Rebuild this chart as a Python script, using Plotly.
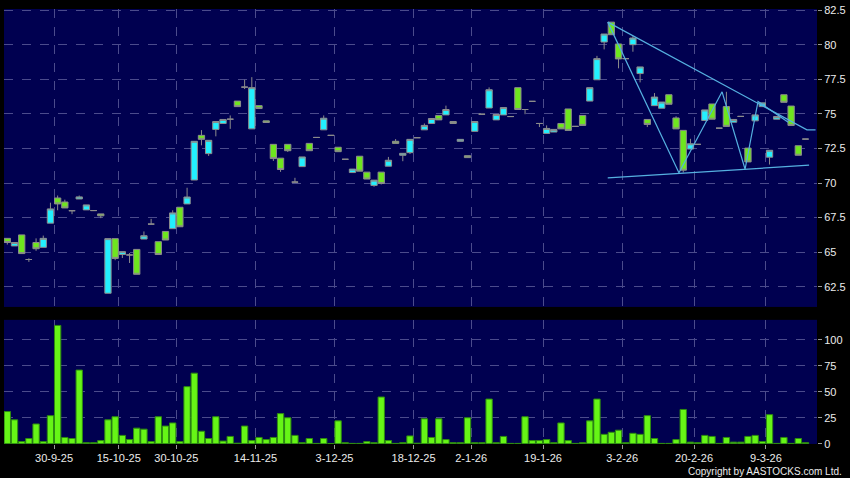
import plotly.graph_objects as go

# daily bars, index 0..111 (trading-day positions)
opens = [66.0, 65.45, 66.25, 64.47, 65.7, 65.35, 67.1, 68.92, 68.63, 68.0,
         68.85, 68.06, 68.01, 67.77, 62.03, 65.98, 64.83, 64.8, 65.2, 65.95,
         67.03, 65.76, 66.5, 66.7, 68.25, 68.49, 70.22, 73.45, 72.13, 73.88,
         74.31, 74.62, 75.93, 76.94, 73.92, 75.6, 74.5, 72.8, 71.8, 72.8,
         70.07, 71.19, 72.87, 73.3, 73.85, 73.45, 72.59, 71.72, 70.76, 71.94,
         70.79, 69.83, 70.79, 71.22, 73.02, 72.01, 72.2, 73.28, 73.85, 74.31,
         74.89, 74.93, 74.45, 73.02, 71.98, 73.74, 74.98, 75.43, 74.57, 74.93,
         74.81, 76.9, 75.32, 75.91, 74.31, 73.59, 73.69, 74.31, 75.36, 74.1,
         74.89, 75.93, 77.47, 80.2, 81.64, 80.06, 79.0, 80.01, 77.92, 74.6,
         75.6, 75.41, 76.39, 74.71, 73.81, 72.46, 72.8, 74.53, 75.72, 73.97,
         75.53, 74.4, 74.82, 72.53, 74.5, 75.53, 71.87, 74.62, 76.39, 75.57,
         72.7, 73.18]
highs = [66.0, 65.7, 66.25, 64.56, 66.0, 66.2, 68.58, 69.1, 68.8, 68.0,
         69.1, 68.42, 68.01, 67.77, 65.98, 65.98, 65.04, 64.94, 65.2, 66.5,
         67.41, 65.76, 66.5, 68.03, 68.25, 69.66, 73.02, 73.83, 73.09, 74.45,
         74.6, 74.89, 75.93, 77.47, 77.66, 75.6, 74.5, 72.8, 71.8, 72.8,
         70.38, 71.89, 72.87, 73.3, 74.89, 73.45, 72.59, 71.72, 71.01, 71.94,
         70.79, 70.21, 70.79, 71.89, 73.18, 72.15, 73.16, 73.28, 74.31, 74.67,
         74.89, 75.6, 74.45, 73.16, 71.98, 74.45, 74.98, 76.92, 74.96, 75.46,
         74.81, 76.9, 75.32, 75.91, 74.31, 74.17, 73.88, 74.31, 75.36, 74.1,
         74.89, 76.9, 79.2, 80.78, 81.64, 80.06, 79.0, 80.63, 78.4, 74.6,
         76.51, 75.86, 76.39, 74.83, 73.81, 73.2, 72.8, 75.29, 75.72, 73.97,
         76.6, 74.6, 74.82, 72.53, 74.93, 75.8, 72.37, 74.81, 76.39, 75.57,
         72.7, 73.18]
lows = [65.55, 65.45, 64.9, 64.3, 65.1, 65.35, 67.1, 68.03, 68.2, 67.75,
        68.85, 68.06, 68.01, 67.46, 62.03, 64.42, 64.58, 64.22, 63.4, 65.95,
        67.03, 64.83, 65.88, 66.7, 66.84, 68.49, 70.22, 72.73, 71.96, 73.38,
        74.31, 73.92, 75.53, 76.8, 73.92, 75.39, 74.38, 71.6, 70.81, 72.25,
        70.07, 71.19, 72.34, 73.3, 73.85, 73.45, 72.27, 71.72, 70.76, 70.86,
        70.29, 69.73, 69.9, 71.22, 72.87, 71.58, 72.1, 73.28, 73.85, 74.31,
        74.57, 74.93, 74.31, 73.02, 71.84, 73.74, 74.98, 75.43, 74.57, 74.93,
        74.81, 75.32, 74.98, 75.91, 74.05, 73.59, 73.69, 73.92, 73.81, 74.1,
        74.17, 75.93, 77.47, 79.67, 80.73, 78.3, 79.0, 79.5, 77.28, 74.05,
        75.6, 75.41, 75.7, 73.92, 70.76, 72.46, 72.8, 74.53, 74.62, 73.97,
        74.1, 74.4, 74.82, 71.53, 74.5, 75.53, 71.34, 74.62, 75.84, 74.17,
        72.01, 73.18]
closes = [65.7, 65.7, 64.9, 64.47, 65.25, 66.0, 68.13, 68.49, 68.2, 68.0,
          69.0, 68.42, 68.01, 67.63, 65.98, 64.55, 65.04, 64.8, 63.4, 66.19,
          67.03, 64.83, 65.88, 67.84, 66.84, 68.99, 73.02, 73.16, 73.09, 74.45,
          74.6, 74.62, 75.53, 76.94, 76.9, 75.39, 74.38, 71.77, 70.98, 72.34,
          70.07, 71.89, 72.34, 73.3, 74.69, 73.45, 72.27, 71.72, 71.01, 70.86,
          70.29, 70.21, 69.97, 71.65, 72.87, 72.15, 73.16, 73.28, 74.17, 74.67,
          74.57, 75.32, 74.31, 73.16, 71.84, 74.45, 74.98, 76.75, 74.96, 75.46,
          74.81, 75.32, 75.32, 75.91, 74.31, 73.95, 73.88, 73.92, 73.81, 74.1,
          74.17, 76.9, 79.0, 80.78, 80.73, 78.98, 79.0, 80.49, 78.4, 74.24,
          76.22, 75.86, 75.7, 73.92, 70.93, 72.84, 72.8, 75.29, 74.62, 73.97,
          74.1, 74.6, 74.82, 71.53, 74.93, 75.8, 72.37, 74.81, 75.84, 74.17,
          72.01, 73.18]
volumes = [31, 23, 2, 5, 19, 2, 27, 114, 6, 5,
           71, 1, 1, 3, 23, 26, 8, 4, 15, 14,
           2, 26, 17, 20, 2, 55, 68, 12, 5, 26,
           2.5, 7, 0.5, 17, 3, 6, 4, 6, 29, 25,
           8, 1, 5, 0.3, 5, 0.2, 22, 1, 0.3, 0.3,
           2, 1, 45, 3, 0.3, 1, 7.5, 0.5, 24, 6,
           24, 4, 1, 1, 25, 1, 1, 43, 1, 7,
           0.3, 0.3, 26, 3, 3, 4, 1, 20, 3, 0.3,
           1, 22, 43, 9, 11, 13, 1, 10, 9, 27,
           5, 0.3, 0.3, 4, 33, 1.5, 1, 8, 7, 0.3,
           6, 1.5, 1.5, 7, 8, 2, 28, 0.3, 6, 0.3,
           5, 1]

date_labels = ["30-9-25", "15-10-25", "30-10-25", "14-11-25", "3-12-25", "18-12-25",
               "2-1-26", "19-1-26", "3-2-26", "20-2-26", "9-3-26"]
label_bars = [6, 15, 23, 34, 45, 56, 64, 74, 85, 95, 105]

price_ticks = [62.5, 65, 67.5, 70, 72.5, 75, 77.5, 80, 82.5]
vol_ticks = [0, 25, 50, 75, 100]

# hand-drawn pattern lines (bar index, price)
upper_x = [83.5, 111.2, 112.4]
upper_y = [81.64, 73.85, 73.85]
lower_x = [83.5, 111.5]
lower_y = [70.38, 71.29]
zigzag_x = [83.5, 93.4, 99.4, 102.6, 104.4, 108.6]
zigzag_y = [81.64, 70.75, 76.6, 71.0, 75.9, 74.4]

idx = list(range(len(opens)))
grid_pos = [b + 0.5 for b in label_bars]

BG = "#000050"
GRID = "#4b4b8c"
LINE = "#55b0e0"

fig = go.Figure()

fig.add_trace(go.Candlestick(
    x=idx, open=opens, high=highs, low=lows, close=closes,
    increasing=dict(fillcolor="#22f0ff", line=dict(color="#8c8c8c", width=1)),
    decreasing=dict(fillcolor="#6ee61e", line=dict(color="#8c8c8c", width=1)),
    whiskerwidth=0, xaxis="x", yaxis="y", hoverinfo="skip", showlegend=False))

for lx, ly in [(upper_x, upper_y), (lower_x, lower_y), (zigzag_x, zigzag_y)]:
    fig.add_trace(go.Scatter(x=lx, y=ly, mode="lines", line=dict(color=LINE, width=1.2),
                             xaxis="x", yaxis="y", hoverinfo="skip", showlegend=False))

fig.add_trace(go.Bar(
    x=idx, y=volumes, marker=dict(color="#66f516", line=dict(color="#2e8c10", width=1)),
    xaxis="x2", yaxis="y2", hoverinfo="skip", showlegend=False))

axis_font = dict(family="Liberation Sans, Arial, sans-serif", size=11, color="#ececec")
xcommon = dict(range=[-0.46, 112.6], tickvals=grid_pos, showgrid=True, gridcolor=GRID,
               griddash="dash", gridwidth=1, zeroline=False, showline=False, fixedrange=True)

fig.update_layout(
    width=850, height=478,
    margin=dict(l=4, r=32, t=6, b=34),
    paper_bgcolor="#000000", plot_bgcolor=BG,
    boxgap=0.08, boxgroupgap=0.05, bargap=0.12,
    xaxis=dict(domain=[0, 1], anchor="y", showticklabels=False, ticks="",
               rangeslider=dict(visible=False), **xcommon),
    xaxis2=dict(domain=[0, 1], anchor="y2", ticktext=date_labels, ticks="outside",
                ticklen=4, tickcolor="#9a9a9a", tickfont=axis_font, **xcommon),
    yaxis=dict(domain=[0.3151, 1], anchor="x", side="right", range=[61.04, 82.59],
               tickvals=price_ticks, ticktext=[f"{v:g}" for v in price_ticks],
               ticks="outside", ticklen=4, tickcolor="#9a9a9a", tickfont=axis_font,
               showgrid=True, gridcolor=GRID, griddash="dash", zeroline=False, fixedrange=True),
    yaxis2=dict(domain=[0, 0.2854], anchor="x2", side="right", range=[-0.3, 119.4],
                tickvals=vol_ticks, ticks="outside", ticklen=4, tickcolor="#9a9a9a",
                tickfont=axis_font, showgrid=True, gridcolor=GRID, griddash="dash",
                zeroline=False, fixedrange=True),
    annotations=[dict(text="Copyright by AASTOCKS.com Ltd.", xref="paper", yref="paper",
                      x=1.0332, y=-0.064, xanchor="right", yanchor="middle", showarrow=False,
                      font=dict(family="Liberation Sans, Arial, sans-serif", size=10, color="#ececec"))],
)

# page body has a default 8px margin; drop it so the chart sits at the window corner
fig.write_html("out.html", config={"displayModeBar": False},
               post_script="document.body.style.margin='0';document.body.style.background='#000';")
